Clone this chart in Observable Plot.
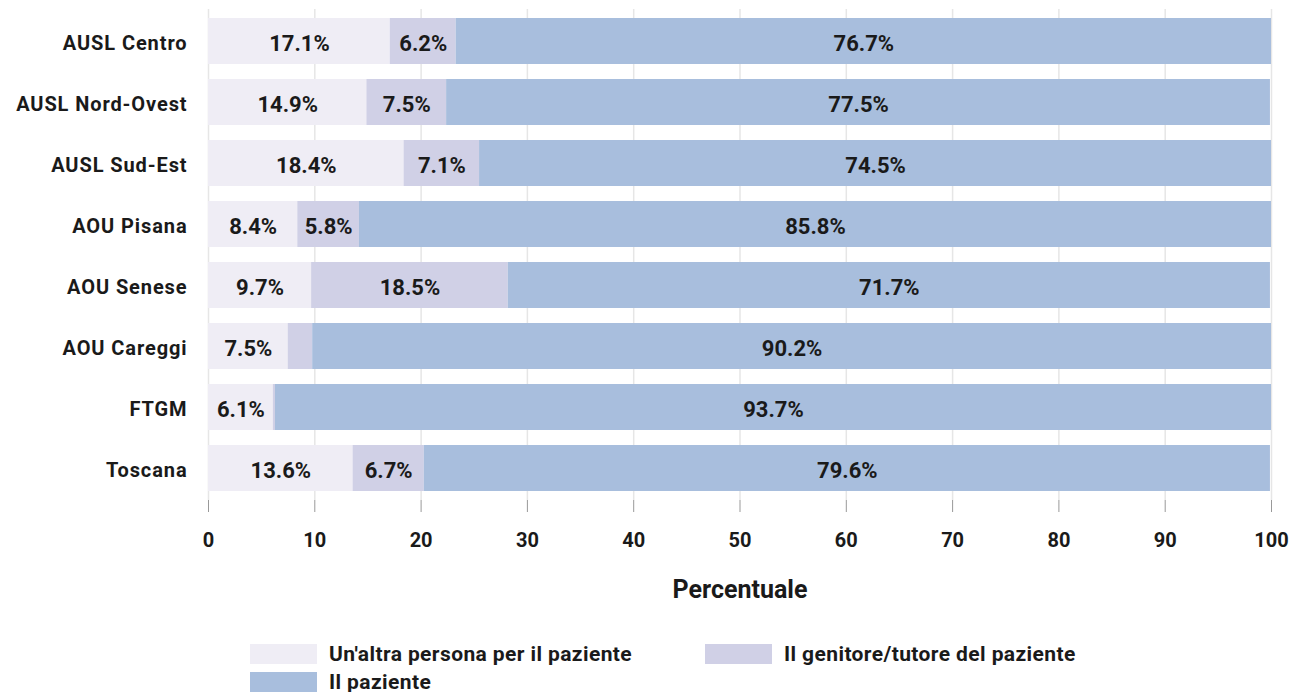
<!DOCTYPE html>
<html>
<head>
<meta charset="utf-8">
<script src="https://cdn.jsdelivr.net/npm/d3@7"></script>
<script src="https://cdn.jsdelivr.net/npm/@observablehq/plot@0.6"></script>
<style>
  html, body { margin: 0; padding: 0; background: #fff; }
  body { width: 1300px; font-family: Roboto, "DejaVu Sans", sans-serif; }
  #chart svg { display: block; }
  #chart svg g[aria-label="y-axis tick label"] text { letter-spacing: 0.9px; }
  .legend { display: grid; grid-template-columns: 455px 420px; margin-left: 250px; row-gap: 8px; margin-top: 4px;
            font-family: Roboto, sans-serif; font-weight: bold; font-size: 21px; letter-spacing: 0.4px; color: #1a1a1a; }
  .item { display: flex; align-items: center; height: 20px; }
  .sw { width: 67px; height: 20px; margin-right: 12px; flex: none; }
</style>
</head>
<body>
<div id="chart"></div>
<div class="legend" id="legend"></div>
<script>
const organizations = ["AUSL Centro", "AUSL Nord-Ovest", "AUSL Sud-Est", "AOU Pisana", "AOU Senese", "AOU Careggi", "FTGM", "Toscana"];
const seriesNames = ["Un'altra persona per il paziente", "Il genitore/tutore del paziente", "Il paziente"];
const altraPersona = [17.1, 14.9, 18.4, 8.4, 9.7, 7.5, 6.1, 13.6];
const genitoreTutore = [6.2, 7.5, 7.1, 5.8, 18.5, 2.3, 0.2, 6.7];
const paziente = [76.7, 77.5, 74.5, 85.8, 71.7, 90.2, 93.7, 79.6];
const xTicks = [0, 10, 20, 30, 40, 50, 60, 70, 80, 90, 100];
const xTitle = "Percentuale";
const colors = ["#efedf5", "#d0d0e6", "#a8bedd"];

const seriesValues = [altraPersona, genitoreTutore, paziente];
const rows = [];
organizations.forEach((org, i) => {
  seriesNames.forEach((s, j) => rows.push({org, series: s, value: seriesValues[j][i]}));
});

const font = "Roboto, 'DejaVu Sans', sans-serif";
const chart = Plot.plot({
  width: 1300,
  height: 640,
  marginLeft: 208,
  marginRight: 29,
  marginTop: 9,
  marginBottom: 140,
  style: {fontFamily: font, fontWeight: "bold", fontSize: "20px", color: "#1a1a1a", background: "#fff"},
  x: {domain: [0, 100], ticks: xTicks, label: null},
  y: {domain: organizations, paddingInner: 0.25, paddingOuter: 0.12, label: null},
  color: {domain: seriesNames, range: colors},
  marks: [
    Plot.gridX(xTicks, {stroke: "#e6e6e6", strokeOpacity: 1, strokeWidth: 1.5}),
    Plot.barX(rows, Plot.stackX({x: "value", y: "org", fill: "series", order: seriesNames})),
    Plot.textX(rows, Plot.stackX({x: "value", y: "org", z: "series", order: seriesNames,
      text: d => d.value >= 5 ? d.value.toFixed(1) + "%" : "", fontSize: 22, fontWeight: "bold", fill: "#1a1a1a", dy: 2})),
    Plot.axisX({ticks: xTicks, tickSize: 12, tickPadding: 20, stroke: "#999", fontSize: 20, fontWeight: "bold", label: null}),
    Plot.text([xTitle], {frameAnchor: "bottom", text: d => d, dy: 97, fontSize: 25, fontWeight: "bold", fill: "#1a1a1a"}),
    Plot.axisY({tickSize: 0, tickPadding: 21, fontSize: 20, fontWeight: "bold", label: null, dy: 2})
  ]
});
document.getElementById("chart").appendChild(chart);

const leg = document.getElementById("legend");
seriesNames.forEach((s, i) => {
  const it = document.createElement("div");
  it.className = "item";
  const sw = document.createElement("div");
  sw.className = "sw";
  sw.style.background = colors[i];
  const t = document.createElement("span");
  t.textContent = s;
  it.appendChild(sw);
  it.appendChild(t);
  leg.appendChild(it);
});
</script>
</body>
</html>
